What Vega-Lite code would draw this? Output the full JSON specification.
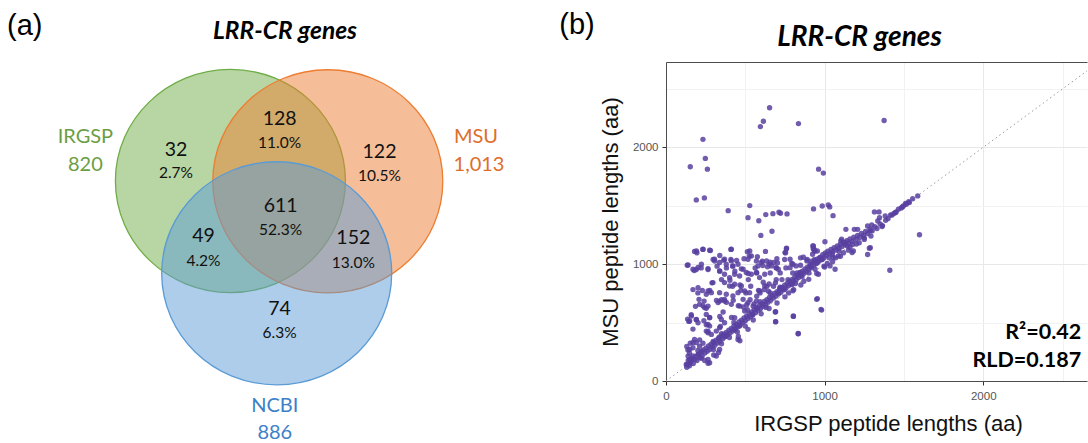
{
  "$schema": "https://vega.github.io/schema/vega-lite/v6.json",
  "padding": 0,
  "background": "white",
  "spacing": 0,
  "bounds": "flush",
  "center": true,
  "config": {"view": {"stroke": null}},
  "datasets": {
    "sets": [
      {"set": "IRGSP", "x": 230.4, "y": 181},
      {"set": "MSU", "x": 327.8, "y": 181.3},
      {"set": "NCBI", "x": 276.7, "y": 273.3}
    ],
    "vennText": [
      {"label": "LRR-CR genes", "kind": "title", "set": "", "x": 285, "y": 31.7},
      {"label": "(a)", "kind": "panel", "set": "", "x": 24.8, "y": 26},
      {"label": "(b)", "kind": "panel", "set": "", "x": 577, "y": 25},
      {"label": "IRGSP", "kind": "setname", "set": "IRGSP", "x": 85.4, "y": 137.3},
      {"label": "820", "kind": "setname", "set": "IRGSP", "x": 85.4, "y": 165},
      {"label": "MSU", "kind": "setname", "set": "MSU", "x": 476, "y": 137.3},
      {"label": "1,013", "kind": "setname", "set": "MSU", "x": 479, "y": 165},
      {"label": "NCBI", "kind": "setname", "set": "NCBI", "x": 274.8, "y": 406},
      {"label": "886", "kind": "setname", "set": "NCBI", "x": 274.8, "y": 433},
      {"label": "32", "kind": "count", "set": "", "x": 176, "y": 150},
      {"label": "2.7%", "kind": "pct", "set": "", "x": 176, "y": 173.3},
      {"label": "128", "kind": "count", "set": "", "x": 279.6, "y": 119},
      {"label": "11.0%", "kind": "pct", "set": "", "x": 279.6, "y": 143.3},
      {"label": "122", "kind": "count", "set": "", "x": 379.5, "y": 151.7},
      {"label": "10.5%", "kind": "pct", "set": "", "x": 379.5, "y": 175.7},
      {"label": "611", "kind": "count", "set": "", "x": 280.6, "y": 206},
      {"label": "52.3%", "kind": "pct", "set": "", "x": 280.6, "y": 230},
      {"label": "49", "kind": "count", "set": "", "x": 203.5, "y": 236},
      {"label": "4.2%", "kind": "pct", "set": "", "x": 203.5, "y": 260.7},
      {"label": "152", "kind": "count", "set": "", "x": 353.3, "y": 238.3},
      {"label": "13.0%", "kind": "pct", "set": "", "x": 353.3, "y": 263.3},
      {"label": "74", "kind": "count", "set": "", "x": 279.6, "y": 309.3},
      {"label": "6.3%", "kind": "pct", "set": "", "x": 279.6, "y": 333.3}
    ],
    "diag": [{"irgsp": 0, "msu": 0, "irgsp2": 2654, "msu2": 2654}],
    "stats": [
      {"label": "R²=0.42", "irgsp": 2618, "msu": 410},
      {"label": "RLD=0.187", "irgsp": 2618, "msu": 172}
    ],
    "pts": [
      {"irgsp":653,"msu":2338},{"irgsp":614,"msu":2223},{"irgsp":595,"msu":2177},{"irgsp":835,"msu":2203},{"irgsp":1375,"msu":2229},{"irgsp":233,"msu":2068},{"irgsp":248,"msu":1905},{"irgsp":261,"msu":1813},{"irgsp":153,"msu":1834},{"irgsp":962,"msu":1813},{"irgsp":992,"msu":1779},{"irgsp":191,"msu":1550},{"irgsp":242,"msu":1567},{"irgsp":392,"msu":1458},{"irgsp":528,"msu":1501},{"irgsp":517,"msu":1398},{"irgsp":585,"msu":1372},{"irgsp":598,"msu":1246},{"irgsp":668,"msu":1281},{"irgsp":629,"msu":1424},{"irgsp":674,"msu":1432},{"irgsp":712,"msu":1444},{"irgsp":722,"msu":1436},{"irgsp":763,"msu":1430},{"irgsp":930,"msu":1473},{"irgsp":985,"msu":1498},{"irgsp":1023,"msu":1507},{"irgsp":1032,"msu":1490},{"irgsp":1053,"msu":1415},
      {"irgsp":1587,"msu":1584},{"irgsp":1534,"msu":1527},{"irgsp":1515,"msu":1513},{"irgsp":1496,"msu":1498},{"irgsp":1483,"msu":1481},{"irgsp":1451,"msu":1447},{"irgsp":1437,"msu":1435},{"irgsp":1416,"msu":1421},{"irgsp":1382,"msu":1412},{"irgsp":1346,"msu":1398},{"irgsp":1314,"msu":1447},{"irgsp":1343,"msu":1447},{"irgsp":1598,"msu":1252},{"irgsp":1411,"msu":948},{"irgsp":1335,"msu":1369},{"irgsp":1134,"msu":1298},{"irgsp":1187,"msu":1298},{"irgsp":1208,"msu":1298},{"irgsp":1271,"msu":1326},{"irgsp":1297,"msu":1335},{"irgsp":1002,"msu":1192},{"irgsp":926,"msu":1155},{"irgsp":934,"msu":1126},{"irgsp":954,"msu":1112},{"irgsp":1288,"msu":1140},{"irgsp":1271,"msu":1083},{"irgsp":1102,"msu":1198},{"irgsp":954,"msu":705},{"irgsp":981,"msu":607},{"irgsp":803,"msu":553},{"irgsp":691,"msu":507},{"irgsp":833,"msu":404},{"irgsp":593,"msu":679},{"irgsp":689,"msu":590},{"irgsp":1362,"msu":1322},{"irgsp":1288,"msu":1285},{"irgsp":1173,"msu":1099},{"irgsp":1282,"msu":1136},
      {"irgsp":130,"msu":140},{"irgsp":140,"msu":175},{"irgsp":148,"msu":130},{"irgsp":155,"msu":160},{"irgsp":165,"msu":195},{"irgsp":172,"msu":150},{"irgsp":180,"msu":185},{"irgsp":188,"msu":210},{"irgsp":195,"msu":175},{"irgsp":205,"msu":230},{"irgsp":212,"msu":200},{"irgsp":220,"msu":245},{"irgsp":228,"msu":215},{"irgsp":236,"msu":265},{"irgsp":245,"msu":240},{"irgsp":252,"msu":280},{"irgsp":260,"msu":255},{"irgsp":268,"msu":300},{"irgsp":276,"msu":270},{"irgsp":284,"msu":315},{"irgsp":292,"msu":290},{"irgsp":300,"msu":330},{"irgsp":308,"msu":305},{"irgsp":316,"msu":350},{"irgsp":324,"msu":325},{"irgsp":332,"msu":365},{"irgsp":340,"msu":340},{"irgsp":348,"msu":385},{"irgsp":356,"msu":360},{"irgsp":364,"msu":400},{"irgsp":372,"msu":378},{"irgsp":380,"msu":415},{"irgsp":388,"msu":395},{"irgsp":396,"msu":435},{"irgsp":404,"msu":410},{"irgsp":412,"msu":450},{"irgsp":420,"msu":428},{"irgsp":428,"msu":470},{"irgsp":436,"msu":445},{"irgsp":444,"msu":485},{"irgsp":452,"msu":462},{"irgsp":460,"msu":505},{"irgsp":468,"msu":480},{"irgsp":476,"msu":520},{"irgsp":484,"msu":500},{"irgsp":492,"msu":540},{"irgsp":500,"msu":515},{"irgsp":508,"msu":555},{"irgsp":516,"msu":535},{"irgsp":524,"msu":575},{"irgsp":532,"msu":550},{"irgsp":540,"msu":590},{"irgsp":548,"msu":570},{"irgsp":556,"msu":610},{"irgsp":564,"msu":585},{"irgsp":572,"msu":625},{"irgsp":580,"msu":605},{"irgsp":588,"msu":645},{"irgsp":596,"msu":620},{"irgsp":604,"msu":660},{"irgsp":612,"msu":640},{"irgsp":620,"msu":680},{"irgsp":628,"msu":655},{"irgsp":636,"msu":695},{"irgsp":644,"msu":675},{"irgsp":652,"msu":715},{"irgsp":660,"msu":690},{"irgsp":668,"msu":730},{"irgsp":676,"msu":710},{"irgsp":684,"msu":750},{"irgsp":692,"msu":725},{"irgsp":700,"msu":765},{"irgsp":708,"msu":745},{"irgsp":716,"msu":785},{"irgsp":724,"msu":760},{"irgsp":732,"msu":800},{"irgsp":740,"msu":780},{"irgsp":748,"msu":820},{"irgsp":756,"msu":795},{"irgsp":764,"msu":835},{"irgsp":772,"msu":815},{"irgsp":780,"msu":855},{"irgsp":788,"msu":830},{"irgsp":796,"msu":870},{"irgsp":804,"msu":850},{"irgsp":812,"msu":890},{"irgsp":820,"msu":865},{"irgsp":828,"msu":905},{"irgsp":836,"msu":885},{"irgsp":844,"msu":925},{"irgsp":852,"msu":900},{"irgsp":860,"msu":940},{"irgsp":868,"msu":920},{"irgsp":876,"msu":960},{"irgsp":884,"msu":935},{"irgsp":892,"msu":975},{"irgsp":900,"msu":955},{"irgsp":908,"msu":995},{"irgsp":916,"msu":970},{"irgsp":924,"msu":1010},{"irgsp":932,"msu":990},{"irgsp":940,"msu":1030},{"irgsp":948,"msu":1005},{"irgsp":956,"msu":1045},{"irgsp":964,"msu":1025},{"irgsp":972,"msu":1060},{"irgsp":980,"msu":1040},{"irgsp":988,"msu":1080},{"irgsp":996,"msu":1055},{"irgsp":1004,"msu":1095},{"irgsp":1012,"msu":1075},{"irgsp":1020,"msu":1110},{"irgsp":1030,"msu":1090},{"irgsp":1040,"msu":1125},{"irgsp":1050,"msu":1105},{"irgsp":1060,"msu":1140},{"irgsp":1070,"msu":1120},{"irgsp":1080,"msu":1155},{"irgsp":1090,"msu":1135},{"irgsp":1100,"msu":1170},{"irgsp":1110,"msu":1150},{"irgsp":1120,"msu":1185},{"irgsp":1130,"msu":1165},{"irgsp":1140,"msu":1200},{"irgsp":1150,"msu":1180},{"irgsp":1160,"msu":1215},{"irgsp":1172,"msu":1195},{"irgsp":1184,"msu":1230},{"irgsp":1196,"msu":1210},{"irgsp":1208,"msu":1245},{"irgsp":1220,"msu":1228},{"irgsp":1232,"msu":1262},{"irgsp":1245,"msu":1245},{"irgsp":1258,"msu":1280},{"irgsp":1272,"msu":1262},{"irgsp":1286,"msu":1300},{"irgsp":1300,"msu":1285},{"irgsp":1316,"msu":1320},{"irgsp":1330,"msu":1305},{"irgsp":1350,"msu":1345},{"irgsp":1365,"msu":1330},{"irgsp":1385,"msu":1375},{"irgsp":1400,"msu":1390},{"irgsp":1425,"msu":1420},{"irgsp":1445,"msu":1440},{"irgsp":1465,"msu":1470},{"irgsp":1490,"msu":1490},{"irgsp":1510,"msu":1520},{"irgsp":1530,"msu":1535},{"irgsp":1555,"msu":1560},
      {"irgsp":300,"msu":270},{"irgsp":400,"msu":372},{"irgsp":500,"msu":470},{"irgsp":600,"msu":575},{"irgsp":700,"msu":668},{"irgsp":800,"msu":772},{"irgsp":900,"msu":870},{"irgsp":1000,"msu":975},{"irgsp":1100,"msu":1068},{"irgsp":1200,"msu":1172},{"irgsp":350,"msu":318},{"irgsp":450,"msu":420},{"irgsp":550,"msu":522},{"irgsp":650,"msu":620},{"irgsp":750,"msu":720},{"irgsp":850,"msu":822},{"irgsp":950,"msu":920},{"irgsp":1050,"msu":1020},{"irgsp":1150,"msu":1120},{"irgsp":1250,"msu":1225},
      {"irgsp":593,"msu":754},{"irgsp":619,"msu":782},{"irgsp":646,"msu":768},{"irgsp":678,"msu":811},{"irgsp":710,"msu":754},{"irgsp":746,"msu":782},{"irgsp":773,"msu":754},{"irgsp":805,"msu":782},{"irgsp":826,"msu":925},{"irgsp":858,"msu":897},{"irgsp":869,"msu":854},{"irgsp":901,"msu":925},{"irgsp":911,"msu":983},{"irgsp":915,"msu":1026},{"irgsp":936,"msu":1040},{"irgsp":954,"msu":1011},{"irgsp":970,"msu":1054},{"irgsp":985,"msu":1040},{"irgsp":996,"msu":983},{"irgsp":1017,"msu":1006},{"irgsp":1028,"msu":1054},{"irgsp":1049,"msu":1083},{"irgsp":1070,"msu":1054},{"irgsp":1091,"msu":1112},{"irgsp":1119,"msu":1097},{"irgsp":1144,"msu":1155},{"irgsp":1176,"msu":1169},{"irgsp":1218,"msu":1183},{"irgsp":1250,"msu":1212},{"irgsp":1292,"msu":1241},{"irgsp":504,"msu":754},{"irgsp":530,"msu":696},{"irgsp":555,"msu":659},{"irgsp":509,"msu":653},{"irgsp":572,"msu":725},
      {"irgsp":1107,"msu":1214},{"irgsp":1129,"msu":1185},{"irgsp":1160,"msu":1142},{"irgsp":1181,"msu":1113},{"irgsp":1053,"msu":1057},{"irgsp":1087,"msu":1070},{"irgsp":1034,"msu":985},{"irgsp":1066,"msu":956},{"irgsp":760,"msu":1136},{"irgsp":750,"msu":1099},{"irgsp":929,"msu":1156},{"irgsp":939,"msu":1113},{"irgsp":924,"msu":1085},{"irgsp":634,"msu":1027},{"irgsp":650,"msu":1000},{"irgsp":665,"msu":985},{"irgsp":680,"msu":1014},{"irgsp":695,"msu":970},{"irgsp":708,"msu":956},{"irgsp":782,"msu":1042},{"irgsp":800,"msu":999},{"irgsp":782,"msu":970},{"irgsp":820,"msu":985},{"irgsp":845,"msu":930},{"irgsp":866,"msu":1059},{"irgsp":888,"msu":1028},{"irgsp":910,"msu":985},{"irgsp":940,"msu":956},{"irgsp":961,"msu":913},{"irgsp":613,"msu":845},{"irgsp":650,"msu":830},{"irgsp":690,"msu":840},{"irgsp":719,"msu":802},
      {"irgsp":180,"msu":1109},{"irgsp":195,"msu":1097},{"irgsp":233,"msu":1126},{"irgsp":280,"msu":1117},{"irgsp":409,"msu":1126},{"irgsp":528,"msu":1112},{"irgsp":627,"msu":1109},{"irgsp":759,"msu":1132},{"irgsp":754,"msu":1097},{"irgsp":339,"msu":1074},{"irgsp":297,"msu":1040},{"irgsp":307,"msu":1026},{"irgsp":364,"msu":1034},{"irgsp":409,"msu":1040},{"irgsp":445,"msu":1031},{"irgsp":492,"msu":1046},{"irgsp":513,"msu":1106},{"irgsp":525,"msu":1069},{"irgsp":576,"msu":1063},{"irgsp":608,"msu":1026},{"irgsp":657,"msu":1017},{"irgsp":699,"msu":1046},{"irgsp":703,"msu":1011},{"irgsp":748,"msu":1040},{"irgsp":793,"msu":1006},{"irgsp":848,"msu":1054},{"irgsp":890,"msu":1040},{"irgsp":928,"msu":1132},{"irgsp":936,"msu":1112},
      {"irgsp":134,"msu":991},{"irgsp":178,"msu":945},{"irgsp":191,"msu":954},{"irgsp":222,"msu":968},{"irgsp":265,"msu":954},{"irgsp":322,"msu":983},{"irgsp":339,"msu":940},{"irgsp":381,"msu":968},{"irgsp":420,"msu":983},{"irgsp":434,"msu":940},{"irgsp":475,"msu":960},{"irgsp":519,"msu":920},{"irgsp":562,"msu":968},{"irgsp":572,"msu":925},{"irgsp":610,"msu":988},{"irgsp":640,"msu":977},{"irgsp":657,"msu":925},{"irgsp":695,"msu":968},{"irgsp":720,"msu":925},{"irgsp":756,"msu":968},{"irgsp":799,"msu":925},{"irgsp":848,"msu":991},
      {"irgsp":170,"msu":782},{"irgsp":201,"msu":754},{"irgsp":229,"msu":774},{"irgsp":276,"msu":774},{"irgsp":290,"msu":840},{"irgsp":350,"msu":868},{"irgsp":403,"msu":862},{"irgsp":420,"msu":811},{"irgsp":466,"msu":822},{"irgsp":472,"msu":776},{"irgsp":519,"msu":868},{"irgsp":534,"msu":811},{"irgsp":583,"msu":776},{"irgsp":636,"msu":811},{"irgsp":657,"msu":754},{"irgsp":695,"msu":868},{"irgsp":731,"msu":868},{"irgsp":720,"msu":796},{"irgsp":769,"msu":868},{"irgsp":795,"msu":825},{"irgsp":816,"msu":834},
      {"irgsp":186,"msu":639},{"irgsp":233,"msu":645},{"irgsp":254,"msu":622},{"irgsp":318,"msu":690},{"irgsp":350,"msu":696},{"irgsp":381,"msu":673},{"irgsp":424,"msu":690},{"irgsp":456,"msu":645},{"irgsp":487,"msu":633},{"irgsp":360,"msu":590},{"irgsp":275,"msu":544},{"irgsp":136,"msu":530},{"irgsp":144,"msu":510},{"irgsp":159,"msu":567},{"irgsp":191,"msu":524},{"irgsp":239,"msu":516},{"irgsp":339,"msu":553},{"irgsp":413,"msu":544},{"irgsp":428,"msu":501},{"irgsp":513,"msu":610},{"irgsp":545,"msu":567},{"irgsp":572,"msu":625},{"irgsp":631,"msu":630},
      {"irgsp":170,"msu":444},{"irgsp":254,"msu":481},{"irgsp":265,"msu":424},{"irgsp":343,"msu":467},{"irgsp":350,"msu":404},{"irgsp":434,"msu":438},{"irgsp":456,"msu":381},{"irgsp":466,"msu":344},{"irgsp":131,"msu":295},{"irgsp":153,"msu":324},{"irgsp":170,"msu":329},{"irgsp":212,"msu":352},{"irgsp":233,"msu":324},{"irgsp":297,"msu":338},{"irgsp":335,"msu":375},{"irgsp":373,"msu":381},
      {"irgsp":138,"msu":266},{"irgsp":148,"msu":238},{"irgsp":159,"msu":180},{"irgsp":144,"msu":146},{"irgsp":131,"msu":117},{"irgsp":170,"msu":215},{"irgsp":201,"msu":261},{"irgsp":222,"msu":195},{"irgsp":244,"msu":175},{"irgsp":265,"msu":152},{"irgsp":301,"msu":223},{"irgsp":331,"msu":244},
      {"irgsp":192,"msu":1113},{"irgsp":233,"msu":1128},{"irgsp":275,"msu":1119},{"irgsp":139,"msu":993},{"irgsp":170,"msu":956},{"irgsp":202,"msu":971},{"irgsp":223,"msu":999},{"irgsp":265,"msu":962},{"irgsp":412,"msu":1128},{"irgsp":306,"msu":1042},{"irgsp":338,"msu":1014},{"irgsp":369,"msu":1042},{"irgsp":380,"msu":999},{"irgsp":412,"msu":1028},{"irgsp":422,"msu":985},{"irgsp":454,"msu":999},{"irgsp":486,"msu":956},{"irgsp":517,"msu":1042},{"irgsp":538,"msu":1070},{"irgsp":570,"msu":1028},{"irgsp":580,"msu":985},{"irgsp":601,"msu":1014},
      {"irgsp":338,"msu":942},{"irgsp":369,"msu":913},{"irgsp":401,"msu":885},{"irgsp":433,"msu":913},{"irgsp":464,"msu":899},{"irgsp":506,"msu":928},{"irgsp":538,"msu":913},{"irgsp":570,"msu":928},{"irgsp":590,"msu":885},{"irgsp":622,"msu":913},{"irgsp":369,"msu":842},{"irgsp":401,"msu":813},{"irgsp":433,"msu":828},{"irgsp":475,"msu":813},{"irgsp":296,"msu":842},
      {"irgsp":202,"msu":799},{"irgsp":265,"msu":770},{"irgsp":254,"msu":742},{"irgsp":286,"msu":756},{"irgsp":338,"msu":756},{"irgsp":380,"msu":742},{"irgsp":422,"msu":727},{"irgsp":454,"msu":756},{"irgsp":496,"msu":770},{"irgsp":527,"msu":756},{"irgsp":590,"msu":770},{"irgsp":622,"msu":813},{"irgsp":208,"msu":699},{"irgsp":240,"msu":684},{"irgsp":338,"msu":684},{"irgsp":369,"msu":699},{"irgsp":486,"msu":699},{"irgsp":570,"msu":684},
      {"irgsp":212,"msu":656},{"irgsp":243,"msu":628},{"irgsp":254,"msu":570},{"irgsp":265,"msu":641},{"irgsp":328,"msu":671},{"irgsp":369,"msu":684},{"irgsp":412,"msu":656},{"irgsp":464,"msu":641},{"irgsp":496,"msu":599},{"irgsp":517,"msu":671},{"irgsp":549,"msu":641},{"irgsp":160,"msu":556},{"irgsp":149,"msu":513},{"irgsp":191,"msu":527},{"irgsp":202,"msu":499},{"irgsp":275,"msu":542},{"irgsp":265,"msu":485},{"irgsp":275,"msu":470},{"irgsp":349,"msu":527},{"irgsp":369,"msu":499},{"irgsp":338,"msu":456},{"irgsp":433,"msu":542},{"irgsp":254,"msu":427},{"irgsp":265,"msu":413},{"irgsp":286,"msu":399},{"irgsp":317,"msu":427},
      {"irgsp":180,"msu":356},{"irgsp":191,"msu":328},{"irgsp":212,"msu":298},{"irgsp":170,"msu":285},{"irgsp":149,"msu":270},{"irgsp":223,"msu":256},{"irgsp":202,"msu":227},{"irgsp":139,"msu":213},{"irgsp":149,"msu":184},{"irgsp":128,"msu":142},{"irgsp":265,"msu":184},{"irgsp":275,"msu":156},{"irgsp":317,"msu":213},{"irgsp":338,"msu":270},{"irgsp":454,"msu":356},{"irgsp":517,"msu":442},{"irgsp":464,"msu":470},
      {"irgsp":691,"msu":593},{"irgsp":691,"msu":508},{"irgsp":803,"msu":556},{"irgsp":834,"msu":407},{"irgsp":977,"msu":613},{"irgsp":950,"msu":699}
    ]
  },
  "hconcat": [
    {
      "width": 666,
      "height": 443,
      "encoding": {
        "x": {"field": "x", "type": "quantitative", "scale": {"domain": [0, 666], "nice": false, "zero": false}, "axis": null},
        "y": {"field": "y", "type": "quantitative", "scale": {"domain": [0, 443], "nice": false, "zero": false, "reverse": true}, "axis": null}
      },
      "layer": [
        {
          "data": {"name": "sets"},
          "mark": {"type": "point", "filled": true, "shape": "M-1,0A1,0.97,0,1,0,1,0A1,0.97,0,1,0,-1,0Z", "size": 52900, "fillOpacity": 0.5, "strokeWidth": 1.3, "strokeOpacity": 1, "clip": true},
          "encoding": {
            "fill": {"field": "set", "type": "nominal", "scale": {"domain": ["IRGSP", "MSU", "NCBI"], "range": ["#70ad47", "#ed7d31", "#5b9bd5"]}, "legend": null},
            "stroke": {"field": "set", "type": "nominal", "scale": {"domain": ["IRGSP", "MSU", "NCBI"], "range": ["#70ad47", "#ed7d31", "#5b9bd5"]}, "legend": null}
          }
        },
        {
          "data": {"name": "vennText"},
          "transform": [{"filter": "datum.kind === 'count'"}],
          "mark": {"type": "text", "font": "Lato", "fontSize": 19.5, "color": "#111111", "baseline": "middle", "align": "center", "clip": true},
          "encoding": {"text": {"field": "label"}}
        },
        {
          "data": {"name": "vennText"},
          "transform": [{"filter": "datum.kind === 'pct'"}],
          "mark": {"type": "text", "font": "Lato", "fontSize": 15.5, "color": "#111111", "baseline": "middle", "align": "center", "clip": true},
          "encoding": {"text": {"field": "label"}}
        },
        {
          "data": {"name": "vennText"},
          "transform": [{"filter": "datum.kind === 'setname'"}],
          "mark": {"type": "text", "font": "Lato", "fontSize": 20, "baseline": "middle", "align": "center", "clip": true},
          "encoding": {
            "text": {"field": "label"},
            "color": {"field": "set", "type": "nominal", "scale": {"domain": ["IRGSP", "MSU", "NCBI"], "range": ["#6b9e43", "#dd6e2c", "#3d80c6"]}, "legend": null}
          }
        },
        {
          "data": {"name": "vennText"},
          "transform": [{"filter": "datum.kind === 'panel'"}],
          "mark": {"type": "text", "font": "Liberation Sans", "fontSize": 29, "color": "#000000", "baseline": "middle", "align": "center", "clip": true},
          "encoding": {"text": {"field": "label"}}
        },
        {
          "data": {"name": "vennText"},
          "transform": [{"filter": "datum.kind === 'title'"}],
          "mark": {"type": "text", "font": "Lato", "fontSize": 24.5, "fontWeight": "bold", "fontStyle": "italic", "color": "#000000", "baseline": "middle", "align": "center", "clip": true},
          "encoding": {"text": {"field": "label"}}
        }
      ]
    },
    {
      "width": 421,
      "height": 319,
      "title": {"text": "LRR-CR genes", "font": "Lato", "fontSize": 28, "fontWeight": "bold", "fontStyle": "italic", "color": "#000000", "anchor": "middle", "frame": "group", "dx": -17, "offset": 10},
      "layer": [
        {
          "data": {"name": "diag"},
          "mark": {"type": "rule", "color": "#9a9a9a", "strokeWidth": 1, "strokeDash": [1.5, 3]},
          "encoding": {
            "x": {"field": "irgsp", "type": "quantitative", "scale": {"domain": [0, 2654], "nice": false, "zero": false},
                  "axis": {"orient": "top", "labels": false, "ticks": false, "grid": false, "title": null, "domain": true, "domainColor": "#4d4d4d", "domainWidth": 1}},
            "y": {"field": "msu", "type": "quantitative", "scale": {"domain": [0, 2730], "nice": false, "zero": false}, "axis": null},
            "x2": {"field": "irgsp2"},
            "y2": {"field": "msu2"}
          }
        },
        {
          "data": {"name": "pts"},
          "mark": {"type": "point", "filled": true, "shape": "circle", "size": 29, "color": "#583fa0", "opacity": 0.85},
          "encoding": {
            "x": {"field": "irgsp", "type": "quantitative", "scale": {"domain": [0, 2654], "nice": false, "zero": false},
                  "axis": {"orient": "bottom", "values": [0, 500, 1000, 1500, 2000, 2500], "format": "d",
                           "labelExpr": "datum.value % 1000 === 0 ? datum.label : ''",
                           "labelFlush": false, "labelOverlap": false,
                           "labelFont": "Liberation Sans", "labelFontSize": 11.5, "labelColor": "#555555", "labelPadding": 5,
                           "tickSize": 4, "tickColor": "#333333",
                           "tickOpacity": {"condition": {"test": "datum.value % 1000 !== 0", "value": 0}, "value": 1},
                           "grid": true, "gridWidth": 1,
                           "gridColor": {"condition": {"test": "datum.value % 1000 !== 0", "value": "#f2f2f2"}, "value": "#e8e8e8"},
                           "domain": true, "domainColor": "#4d4d4d", "domainWidth": 1,
                           "title": "IRGSP peptide lengths (aa)", "titleFont": "Liberation Sans", "titleFontSize": 22, "titleFontWeight": "normal", "titleColor": "#111111", "titlePadding": 12, "titleX": 222}},
            "y": {"field": "msu", "type": "quantitative", "scale": {"domain": [0, 2730], "nice": false, "zero": false},
                  "axis": {"orient": "left", "values": [0, 500, 1000, 1500, 2000, 2500], "format": "d",
                           "labelExpr": "datum.value % 1000 === 0 ? datum.label : ''",
                           "labelFlush": false, "labelOverlap": false,
                           "labelFont": "Liberation Sans", "labelFontSize": 11.5, "labelColor": "#555555", "labelPadding": 4,
                           "tickSize": 4, "tickColor": "#333333",
                           "tickOpacity": {"condition": {"test": "datum.value % 1000 !== 0", "value": 0}, "value": 1},
                           "grid": true, "gridWidth": 1,
                           "gridColor": {"condition": {"test": "datum.value % 1000 !== 0", "value": "#f2f2f2"}, "value": "#e8e8e8"},
                           "domain": true, "domainColor": "#4d4d4d", "domainWidth": 1,
                           "title": "MSU peptide lengths (aa)", "titleFont": "Liberation Sans", "titleFontSize": 22, "titleFontWeight": "normal", "titleColor": "#111111", "titlePadding": 10}}
          }
        },
        {
          "data": {"name": "stats"},
          "mark": {"type": "text", "font": "Lato", "fontSize": 21.5, "fontWeight": "bold", "color": "#000000", "align": "right", "baseline": "middle"},
          "encoding": {
            "x": {"field": "irgsp", "type": "quantitative", "scale": {"domain": [0, 2654], "nice": false, "zero": false}, "axis": null},
            "y": {"field": "msu", "type": "quantitative", "scale": {"domain": [0, 2730], "nice": false, "zero": false}, "axis": null},
            "text": {"field": "label"}
          }
        }
      ],
      "resolve": {"axis": {"x": "independent", "y": "independent"}}
    }
  ]
}
